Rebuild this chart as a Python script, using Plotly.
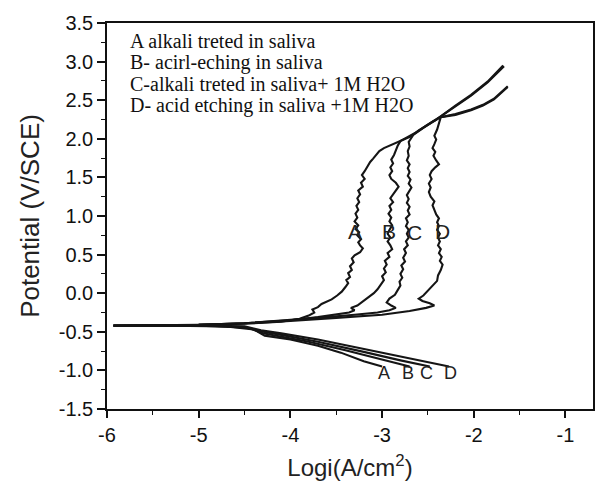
import plotly.graph_objects as go

# ---- data (log i [A/cm2], potential [V/SCE]) ----
A_x = [-3.00, -3.20, -3.45, -3.70, -4.00, -4.28, -4.40, -4.70, -5.30, -5.93,
       -5.50, -5.00, -4.50, -4.10, -3.90, -3.80, -3.74, -3.76, -3.70, -3.66, -3.60, -3.55,
       -3.49, -3.44, -3.40, -3.37, -3.39, -3.35, -3.37, -3.33, -3.35, -3.31, -3.33, -3.30,
       -3.24, -3.21, -3.24, -3.26, -3.23, -3.27, -3.25, -3.29, -3.26, -3.30, -3.27, -3.29,
       -3.26, -3.28, -3.25, -3.27, -3.24, -3.26, -3.21, -3.23, -3.19, -3.22, -3.19, -3.16,
       -3.13, -3.10, -3.06, -3.03, -2.98, -2.92, -2.85, -2.78, -2.69, -2.60, -2.50, -2.42,
       -2.36, -2.20, -2.03, -1.85, -1.67]
A_y = [-0.95, -0.88, -0.77, -0.68, -0.60, -0.55, -0.47, -0.43, -0.42, -0.42,
       -0.415, -0.41, -0.395, -0.37, -0.33, -0.29, -0.25, -0.21, -0.18, -0.14, -0.11, -0.08,
       -0.03, 0.02, 0.08, 0.13, 0.17, 0.21, 0.26, 0.30, 0.35, 0.40, 0.45, 0.49,
       0.53, 0.58, 0.62, 0.66, 0.70, 0.75, 0.79, 0.83, 0.88, 0.93, 0.98, 1.03,
       1.08, 1.13, 1.18, 1.23, 1.28, 1.33, 1.38, 1.43, 1.48, 1.53, 1.58, 1.64,
       1.70, 1.74, 1.79, 1.84, 1.88, 1.91, 1.95, 1.99, 2.03, 2.11, 2.18, 2.24,
       2.29, 2.42, 2.56, 2.73, 2.94]

B_x = [-2.70, -3.00, -3.40, -3.80, -4.10, -4.30, -4.45, -4.80, -5.93,
       -5.00, -4.50, -4.00, -3.70, -3.50, -3.36, -3.30, -3.34, -3.27, -3.20, -3.14, -3.09,
       -3.05, -3.01, -2.98, -3.00, -2.96, -2.98, -2.95, -2.97, -2.92, -2.94, -2.89, -2.91,
       -2.94, -2.91, -2.94, -2.92, -2.89, -2.92, -2.90, -2.93, -2.90, -2.92, -2.88, -2.91,
       -2.88, -2.85, -2.82, -2.85, -2.90, -2.92, -2.89, -2.91, -2.88, -2.90, -2.87, -2.85,
       -2.83, -2.80, -2.72, -2.62, -2.52, -2.43, -2.36, -2.20, -2.03, -1.85, -1.68]
B_y = [-0.95, -0.86, -0.74, -0.63, -0.56, -0.52, -0.45, -0.425, -0.42,
       -0.41, -0.39, -0.35, -0.31, -0.28, -0.25, -0.22, -0.19, -0.16, -0.10, -0.05, 0.00,
       0.05, 0.11, 0.17, 0.22, 0.27, 0.32, 0.37, 0.42, 0.47, 0.52, 0.57, 0.62,
       0.67, 0.72, 0.77, 0.82, 0.88, 0.93, 0.98, 1.03, 1.08, 1.13, 1.18, 1.23,
       1.28, 1.33, 1.38, 1.43, 1.48, 1.53, 1.58, 1.63, 1.68, 1.73, 1.79, 1.85,
       1.91, 1.97, 2.02, 2.09, 2.17, 2.24, 2.29, 2.43, 2.57, 2.74, 2.95]

C_x = [-2.48, -2.80, -3.20, -3.70, -4.10, -4.30, -4.50, -5.00, -5.93,
       -5.00, -4.50, -4.00, -3.60, -3.30, -3.05, -2.92, -2.85, -2.90, -2.95, -2.92, -2.86,
       -2.83, -2.80, -2.81, -2.78, -2.80, -2.77, -2.79, -2.75, -2.77, -2.74, -2.76, -2.72,
       -2.74, -2.71, -2.73, -2.71, -2.74, -2.72, -2.74, -2.70, -2.72, -2.70, -2.73, -2.71,
       -2.73, -2.70, -2.68, -2.71, -2.69, -2.72, -2.70, -2.72, -2.70, -2.73, -2.71, -2.72,
       -2.70, -2.71, -2.66, -2.55, -2.45, -2.36, -2.20, -2.03, -1.90, -1.78, -1.63]
C_y = [-0.95, -0.87, -0.76, -0.63, -0.54, -0.50, -0.44, -0.42, -0.42,
       -0.41, -0.39, -0.35, -0.31, -0.28, -0.25, -0.22, -0.19, -0.16, -0.12, -0.07, -0.02,
       0.04, 0.10, 0.15, 0.20, 0.25, 0.31, 0.36, 0.41, 0.46, 0.52, 0.57, 0.62,
       0.67, 0.72, 0.77, 0.82, 0.87, 0.92, 0.97, 1.02, 1.07, 1.12, 1.17, 1.22,
       1.27, 1.32, 1.37, 1.42, 1.47, 1.52, 1.57, 1.62, 1.67, 1.72, 1.78, 1.84,
       1.90, 1.96, 2.05, 2.14, 2.22, 2.28, 2.31, 2.37, 2.43, 2.51, 2.67]

D_x = [-2.27, -2.35, -2.70, -3.20, -3.70, -4.10, -4.32, -4.50, -5.00, -5.93,
       -5.00, -4.50, -4.00, -3.50, -3.00, -2.70, -2.52, -2.43, -2.48, -2.56, -2.60, -2.55,
       -2.50, -2.46, -2.40, -2.39, -2.36, -2.34, -2.37, -2.35, -2.38, -2.36, -2.39, -2.37,
       -2.39, -2.37, -2.40, -2.38, -2.40, -2.38, -2.41, -2.43, -2.45, -2.43, -2.47, -2.49,
       -2.47, -2.49, -2.46, -2.48, -2.46, -2.42, -2.38, -2.41, -2.44, -2.42, -2.45, -2.43,
       -2.41, -2.43, -2.40, -2.38, -2.36, -2.20, -2.03, -1.90, -1.78, -1.63]
D_y = [-0.95, -0.93, -0.84, -0.72, -0.60, -0.52, -0.48, -0.43, -0.42, -0.42,
       -0.41, -0.39, -0.36, -0.32, -0.28, -0.23, -0.19, -0.16, -0.13, -0.10, -0.07, -0.03,
       0.03, 0.09, 0.16, 0.23, 0.30, 0.37, 0.42, 0.47, 0.52, 0.57, 0.62, 0.67,
       0.72, 0.77, 0.82, 0.87, 0.92, 0.97, 1.02, 1.08, 1.14, 1.19, 1.25, 1.31,
       1.37, 1.42, 1.48, 1.53, 1.58, 1.63, 1.67, 1.72, 1.78, 1.83, 1.88, 1.93,
       1.99, 2.04, 2.12, 2.20, 2.28, 2.32, 2.38, 2.44, 2.52, 2.68]

curve_names = ["A", "B", "C", "D"]
curves_x = [A_x, B_x, C_x, D_x]
curves_y = [A_y, B_y, C_y, D_y]

legend_lines = ["A alkali treted in saliva",
                "B- acirl-eching in saliva",
                "C-alkali treted in saliva+ 1M H2O",
                "D- acid etching in saliva +1M H2O"]
legend_y = [3.27, 2.99, 2.71, 2.43]

mid_label_x = [-3.30, -2.92, -2.645, -2.34]
mid_label_y = [0.80, 0.80, 0.79, 0.80]
low_label_x = [-2.98, -2.72, -2.52, -2.25]
low_label_y = [-1.04, -1.04, -1.04, -1.04]

x_ticks = [-6, -5, -4, -3, -2, -1]
y_ticks = [-1.5, -1.0, -0.5, 0.0, 0.5, 1.0, 1.5, 2.0, 2.5, 3.0, 3.5]

fig = go.Figure()
for name, xs, ys in zip(curve_names, curves_x, curves_y):
    fig.add_trace(go.Scatter(x=xs, y=ys, mode="lines", name=name,
                             line=dict(color="#151515", width=2.1),
                             showlegend=False))

sans = "Liberation Sans, Arial, sans-serif"
serif = "Liberation Serif, Times New Roman, serif"

annotations = []
for txt, yy in zip(legend_lines, legend_y):
    annotations.append(dict(x=-5.77, y=yy, xref="x", yref="y", text=txt,
                            showarrow=False, xanchor="left", yanchor="middle",
                            font=dict(family=serif, size=20, color="#111")))
for name, xx, yy in zip(curve_names, mid_label_x, mid_label_y):
    annotations.append(dict(x=xx, y=yy, xref="x", yref="y", text=name,
                            showarrow=False, xanchor="center", yanchor="middle",
                            font=dict(family=sans, size=21, color="#222")))
for name, xx, yy in zip(curve_names, low_label_x, low_label_y):
    annotations.append(dict(x=xx, y=yy, xref="x", yref="y", text=name,
                            showarrow=False, xanchor="center", yanchor="middle",
                            font=dict(family=sans, size=18, color="#222")))

fig.update_layout(
    width=611, height=489,
    margin=dict(l=107, r=18, t=15, b=79),
    paper_bgcolor="white", plot_bgcolor="white",
    annotations=annotations,
    xaxis=dict(range=[-6, -0.7], tickmode="array", tickvals=x_ticks,
               ticktext=[str(v) for v in x_ticks],
               showgrid=False, zeroline=False, showline=True, linecolor="#111",
               linewidth=1.6, mirror=True, ticks="outside", ticklen=7, tickwidth=1.5,
               tickcolor="#111",
               minor=dict(dtick=0.5, tick0=-6, ticks="outside", ticklen=4, tickwidth=1.3,
                          tickcolor="#111", showgrid=False),
               tickfont=dict(family=sans, size=20, color="#111"),
               title=dict(text="Logi(A/cm<sup>2</sup>)", standoff=14,
                          font=dict(family=sans, size=24, color="#222"))),
    yaxis=dict(range=[-1.5, 3.5], tickmode="array", tickvals=y_ticks,
               ticktext=["%.1f" % v for v in y_ticks],
               showgrid=False, zeroline=False, showline=True, linecolor="#111",
               linewidth=1.6, mirror=True, ticks="outside", ticklen=8, tickwidth=1.5,
               tickcolor="#111",
               minor=dict(dtick=0.25, tick0=-1.5, ticks="outside", ticklen=4, tickwidth=1.3,
                          tickcolor="#111", showgrid=False),
               tickfont=dict(family=sans, size=20, color="#111"),
               title=dict(text="Potential (V/SCE)", standoff=12,
                          font=dict(family=sans, size=26, color="#222"))),
)

fig.write_html("out.html")
